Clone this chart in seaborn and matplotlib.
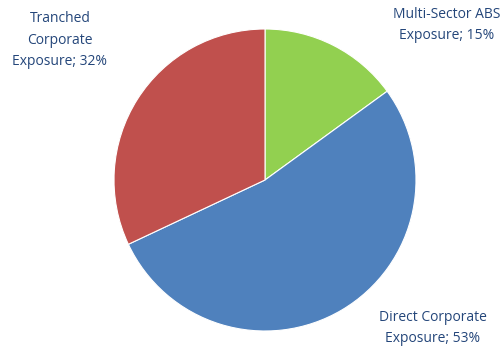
import matplotlib
matplotlib.use("Agg")
import matplotlib.pyplot as plt
import seaborn as sns

categories = ["Multi-Sector ABS\nExposure", "Direct Corporate\nExposure", "Tranched\nCorporate\nExposure"]
values = [15, 53, 32]
colors = ["#92D050", "#4F81BD", "#C0504D"]
label_pos = [(447, 25), (433, 328), (60, 40)]  # pixel centers (x, y from top)

sns.set_theme(style="white")
plt.rcParams['font.family'] = ['Open Sans', 'DejaVu Sans']

W, H = 504, 348
fig = plt.figure(figsize=(W / 100, H / 100), dpi=100)
cx, cy, r = 265, 180, 151
ax = fig.add_axes([(cx - r) / W, (H - cy - r) / H, 2 * r / W, 2 * r / H])
ax.pie(values, colors=colors, startangle=90, counterclock=False,
       wedgeprops=dict(linewidth=0.8, edgecolor="white"), radius=1.0)
ax.set_xlim(-1, 1)
ax.set_ylim(-1, 1)
ax.set_aspect("equal")
ax.axis("off")

for cat, v, (px, py) in zip(categories, values, label_pos):
    fig.text(px / W, 1 - py / H, f"{cat}; {v}%", ha="center", va="center",
             fontsize=10, color="#24467A", linespacing=1.55)

fig.savefig("out.png", dpi=100)
